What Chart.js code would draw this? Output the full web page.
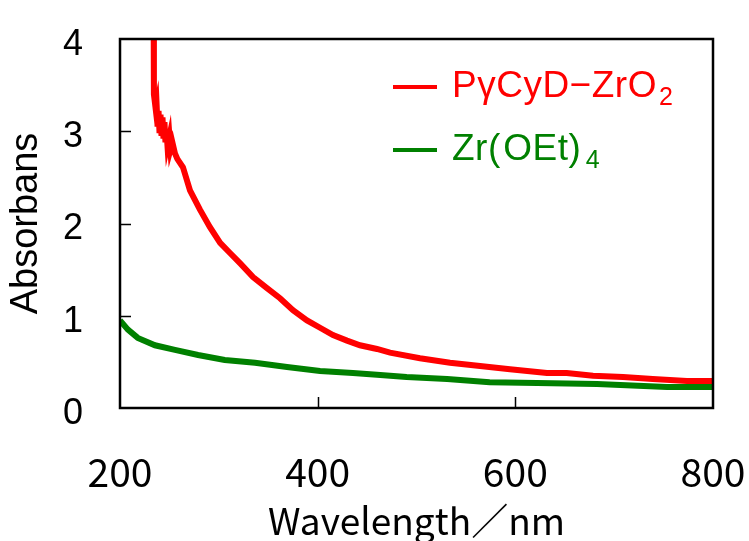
<!DOCTYPE html>
<html>
<head>
<meta charset="utf-8">
<script src="https://cdn.jsdelivr.net/npm/chart.js@4.4.1/dist/chart.umd.min.js"></script>
<style>
  html, body { margin: 0; padding: 0; background: #fff; }
  #wrap { width: 749px; height: 541px; }
</style>
</head>
<body>
<div id="wrap"><canvas id="absChart" width="749" height="541"></canvas></div>
<script>
// UV-vis spectra, wavelength (nm) vs absorbance
const seriesLabels = ['PγCyD−ZrO₂', 'Zr(OEt)₄'];
const seriesColors = ['#ff0000', '#008000'];

const zro2Wavelength = [234, 234.3, 235, 236, 237, 238, 239, 240, 241, 242, 243, 244, 245, 246, 247, 248,
  250, 251, 253, 255.6, 258, 263.7, 270.8, 280.9, 291, 301.3, 311.3, 321.4, 334.6, 348.7, 361.9, 375,
  389.2, 402.4, 415.5, 429.7, 442.8, 460, 473.2, 503.5, 533.9, 564.3, 594.6, 632, 652, 678.6, 709, 739,
  773.7, 800];
const zro2Absorb = [4.4, 3.40, 3.34, 3.25, 3.30, 3.05, 3.22, 2.98, 3.18, 2.95, 3.15, 2.92, 3.10, 2.88, 3.02, 2.85,
  2.95, 2.80, 2.88, 2.76, 2.70, 2.61, 2.36, 2.15, 1.96, 1.79, 1.68, 1.57, 1.42, 1.30, 1.19, 1.06,
  0.95, 0.87, 0.79, 0.73, 0.68, 0.64, 0.60, 0.54, 0.49, 0.455, 0.42, 0.38, 0.38, 0.35, 0.336, 0.314,
  0.293, 0.293];

const zrOEtWavelength = [200, 208, 218, 235.4, 255.6, 279, 306, 336.6, 369, 402.4, 435.7, 460, 490, 531,
  574, 622, 682.6, 753.5, 800];
const zrOEtAbsorb = [0.95, 0.85, 0.76, 0.68, 0.63, 0.575, 0.52, 0.49, 0.445, 0.40, 0.38, 0.36, 0.336, 0.314,
  0.28, 0.27, 0.26, 0.228, 0.228];

const xTicks = [200, 400, 600, 800];
const yTicks = [0, 1, 2, 3, 4];

const toPoints = (xs, ys) => xs.map((x, i) => ({ x: x, y: ys[i] }));

// keep the plot box where the padding puts it, labels may overhang
const noOverhang = scale => {
  scale.paddingLeft = 0;
  scale.paddingRight = 0;
  scale.paddingTop = 0;
  scale.paddingBottom = 0;
};

// box frame plus short inward tick marks
const framePlugin = {
  id: 'frame',
  afterDatasetsDraw(chart) {
    const { ctx, chartArea: a, scales } = chart;
    ctx.save();
    ctx.strokeStyle = '#000';
    ctx.lineWidth = 1.5;
    ctx.beginPath();
    xTicks.slice(1, -1).forEach(v => {
      const px = Math.round(scales.x.getPixelForValue(v)) + 0.5;
      ctx.moveTo(px, a.bottom);
      ctx.lineTo(px, a.bottom - 11);
    });
    yTicks.slice(1, -1).forEach(v => {
      const py = Math.round(scales.y.getPixelForValue(v)) + 0.5;
      ctx.moveTo(a.left, py);
      ctx.lineTo(a.left + 11, py);
    });
    ctx.stroke();
    ctx.lineWidth = 2.5;
    ctx.strokeRect(a.left, a.top, a.right - a.left, a.bottom - a.top);
    ctx.restore();
  }
};

// legend with real subscripts
const subDigits = { '₀': '0', '₁': '1', '₂': '2', '₃': '3', '₄': '4' };
const legendPlugin = {
  id: 'subLegend',
  afterDraw(chart) {
    const { ctx } = chart;
    const rows = [97, 160];
    ctx.save();
    chart.data.datasets.forEach((ds, i) => {
      const base = rows[i];
      ctx.strokeStyle = ds.borderColor;
      ctx.lineWidth = 4;
      ctx.beginPath();
      ctx.moveTo(393, base - 10);
      ctx.lineTo(437, base - 10);
      ctx.stroke();
      ctx.fillStyle = ds.borderColor;
      ctx.textBaseline = 'alphabetic';
      let x = 452;
      for (const ch of ds.label) {
        if (subDigits[ch]) {
          ctx.font = '25px "Liberation Sans", Arial, sans-serif';
          ctx.fillText(subDigits[ch], x + 2, base + 8);
          x += ctx.measureText(subDigits[ch]).width + 2;
        } else {
          ctx.font = '37px "Liberation Sans", Arial, sans-serif';
          ctx.fillText(ch, x, base);
          x += ctx.measureText(ch).width + (ch === '(' || ch === ')' ? 3 : 0.5);
        }
      }
    });
    ctx.restore();
  }
};

const ctx = document.getElementById('absChart').getContext('2d');
const absChart = new Chart(ctx, {
  type: 'line',
  data: {
    datasets: [
      {
        label: seriesLabels[0],
        data: toPoints(zro2Wavelength, zro2Absorb),
        borderColor: seriesColors[0],
        borderWidth: 6,
        pointRadius: 0,
        tension: 0,
        clip: 0
      },
      {
        label: seriesLabels[1],
        data: toPoints(zrOEtWavelength, zrOEtAbsorb),
        borderColor: seriesColors[1],
        borderWidth: 6,
        pointRadius: 0,
        tension: 0,
        clip: 0
      }
    ]
  },
  options: {
    responsive: false,
    animation: false,
    layout: { autoPadding: false, padding: { left: 0, top: 39, right: 36, bottom: 0 } },
    plugins: { legend: { display: false }, tooltip: { enabled: false } },
    scales: {
      x: {
        type: 'linear',
        min: 200,
        max: 800,
        afterFit: scale => { scale.height = 133; noOverhang(scale); },
        afterBuildTicks: scale => { scale.ticks = xTicks.map(v => ({ value: v })); },
        grid: { display: false, drawTicks: false },
        border: { display: false },
        ticks: {
          color: '#000',
          padding: 41,
          maxRotation: 0,
          font: { family: '"Noto Sans CJK JP", sans-serif', size: 39 }
        },
        title: {
          display: true,
          text: 'Wavelength／nm',
          color: '#000',
          padding: { top: 0, bottom: -2 },
          font: { family: '"Noto Sans CJK JP", sans-serif', size: 37 }
        }
      },
      y: {
        min: 0,
        max: 4,
        afterFit: scale => { scale.width = 120; noOverhang(scale); },
        afterBuildTicks: scale => { scale.ticks = yTicks.map(v => ({ value: v })); },
        grid: { display: false, drawTicks: false },
        border: { display: false },
        ticks: {
          color: '#000',
          padding: 37,
          labelOffset: 6,
          font: { family: '"Liberation Sans", Arial, sans-serif', size: 36 }
        },
        title: {
          display: true,
          text: 'Absorbans',
          color: '#000',
          padding: { top: 4, bottom: 0 },
          font: { family: '"Liberation Sans", Arial, sans-serif', size: 38 }
        }
      }
    }
  },
  plugins: [framePlugin, legendPlugin]
});
</script>
</body>
</html>
